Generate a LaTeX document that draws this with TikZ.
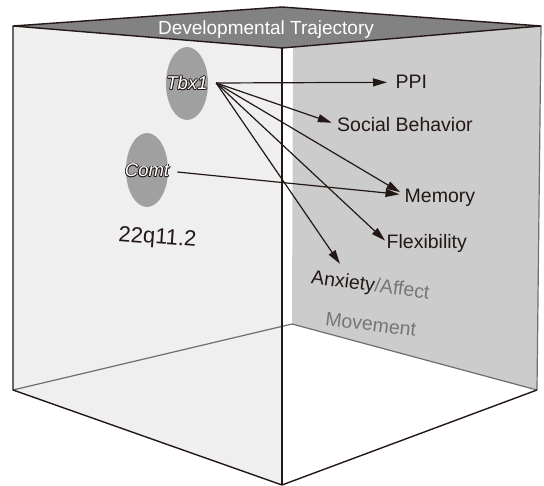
\documentclass[tikz,border=0pt]{standalone}
\usepackage{fontspec}
\setmainfont{Liberation Sans}
\usetikzlibrary{arrows.meta,shapes.geometric}
\definecolor{ink}{RGB}{35,24,21}
\definecolor{leftwall}{RGB}{239,239,239}
\definecolor{rightwall}{RGB}{203,204,203}
\definecolor{topface}{RGB}{130,130,130}
\definecolor{ellfill}{RGB}{160,160,160}
\definecolor{gtext}{RGB}{118,118,118}
\definecolor{gline}{RGB}{110,110,110}
\newcommand{\halotext}[1]{%
  \leavevmode
  \rlap{\textcolor{ink}{\kern0.8pt#1}}%
  \rlap{\textcolor{ink}{\kern-0.8pt#1}}%
  \rlap{\textcolor{ink}{\raisebox{0.8pt}{#1}}}%
  \rlap{\textcolor{ink}{\raisebox{-0.8pt}{#1}}}%
  \rlap{\textcolor{ink}{\kern0.57pt\raisebox{0.57pt}{#1}}}%
  \rlap{\textcolor{ink}{\kern0.57pt\raisebox{-0.57pt}{#1}}}%
  \rlap{\textcolor{ink}{\kern-0.57pt\raisebox{0.57pt}{#1}}}%
  \rlap{\textcolor{ink}{\kern-0.57pt\raisebox{-0.57pt}{#1}}}%
  \textcolor{white}{#1}}
\begin{document}
\begin{tikzpicture}[x=1pt,y=-1pt,
  arr/.style={draw=ink, line width=1.2pt, -{Triangle[length=14pt,width=8pt]}},
  lbl/.style={font=\fontsize{19.5}{22}\selectfont, text=ink, inner sep=0pt},
  glbl/.style={font=\fontsize{19.5}{22}\selectfont, text=gtext, inner sep=0pt},
  gene/.style={font=\fontsize{18.5}{20}\selectfont\itshape, inner sep=0pt},
  blob/.style={ellipse, fill=ellfill, inner sep=0pt, minimum width=42pt, minimum height=73pt},
  edge/.style={draw=ink, line width=1.4pt, line join=round},
  floor/.style={draw=gline, line width=1.2pt}]
\useasboundingbox (0,0) rectangle (544,486);
% walls
\fill[leftwall] (13,26) -- (282,48) -- (282,485) -- (13,390) -- cycle;
\fill[rightwall] (293,47.1) -- (541,26) -- (537,390) -- (292,324) -- cycle;
% floor (back) lines
\draw[floor] (13,390) -- (292,324) -- (537,390);
\draw[floor] (541,26) -- (537,390);
% top face
\filldraw[fill=topface, edge] (13,26) -- (282,7) -- (541,26) -- (282,48) -- cycle;
\node[font=\fontsize{19}{22}\selectfont, text=white, anchor=base, inner sep=0pt] (title) at (266,35) {Developmental Trajectory};
% front edges
\draw[edge] (13,26) -- (13,390) -- (282,485) -- (537,390);
\draw[edge] (282,48) -- (282,485);
% genes
\node[blob] (tbxe) at (187,83.5) {};
\node[blob, minimum height=74pt] (comte) at (147,170) {};
\node[gene] (tbx) at (187,83) {\halotext{Tbx1}};
\node[gene] (comt) at (147,170.5) {\halotext{Comt}};
\node[lbl, font=\fontsize{22}{24}\selectfont, anchor=base, rotate=-4] (q22) at (157,244) {22q11.2};
% phenotypes
\node[lbl, anchor=base west] (ppi) at (395.5,89) {PPI};
\node[lbl, anchor=base west] (soc) at (337,131.5) {Social Behavior};
\node[lbl, anchor=base west] (mem) at (404.5,202.5) {Memory};
\node[lbl, anchor=base west] (flex) at (386.5,249) {Flexibility};
\node[lbl, anchor=base west, rotate=-7.5] (anx) at (310.5,283.5) {Anxiety{\color{gtext}/Affect}};
\node[glbl, anchor=base, rotate=-7] (mov) at (370,331) {Movement};
% arrows
\draw[arr, shorten >=8.5pt] ([xshift=8.4pt]tbx.east) -- (ppi.west);
\draw[arr, shorten >=5.5pt] ([xshift=8.4pt]tbx.east) -- (soc.west);
\draw[arr, shorten >=5pt] ([xshift=8.4pt]tbx.east) -- ([yshift=3pt]mem.west);
\draw[arr, shorten >=2pt] ([xshift=8.4pt]tbx.east) -- ([yshift=2pt]flex.west);
\draw[arr] ([xshift=8.4pt]tbx.east) -- ([xshift=27.6pt,yshift=5.4pt]anx.north west);
\draw[arr, shorten >=5pt] ([xshift=8pt,yshift=-1.5pt]comt.east) -- ([yshift=3pt]mem.west);
\end{tikzpicture}
\end{document}
